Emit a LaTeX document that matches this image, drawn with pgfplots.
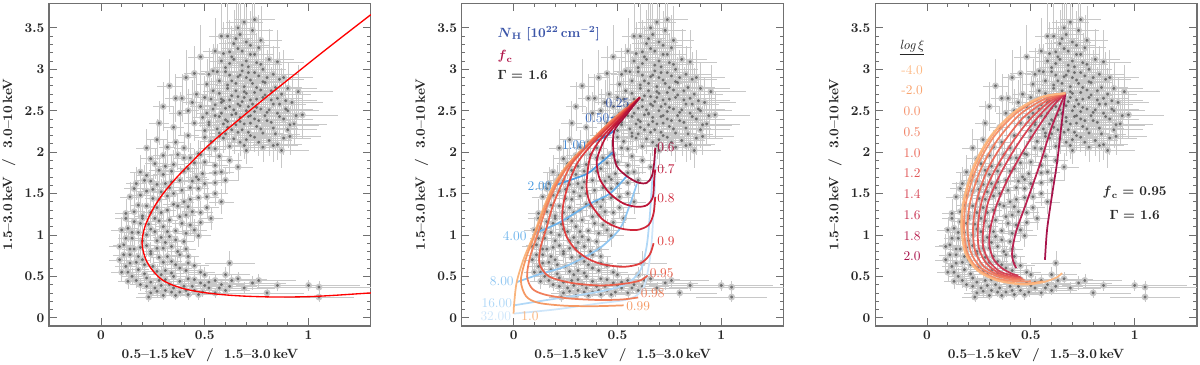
\documentclass[border=0pt]{standalone}
\usepackage{pgfplots}
\usepackage{pgfplotstable}
\pgfplotsset{compat=1.18}
\usepackage{amsmath,amssymb}

\definecolor{axgray}{HTML}{707070}
\definecolor{bargray}{HTML}{C8C8C8}
\definecolor{ptgray}{HTML}{6E6E6E}
% N_H colours
\definecolor{nhA}{HTML}{3655A5}
\definecolor{nhB}{HTML}{3A6BC0}
\definecolor{nhC}{HTML}{3D85D3}
\definecolor{nhD}{HTML}{4E9DE2}
\definecolor{nhE}{HTML}{6EB4EC}
\definecolor{nhF}{HTML}{91C7F2}
\definecolor{nhG}{HTML}{B1D8F7}
\definecolor{nhH}{HTML}{CFE6FA}
% f_c colours
\definecolor{fcA}{HTML}{A50F3A}
\definecolor{fcB}{HTML}{BD1538}
\definecolor{fcC}{HTML}{CE2539}
\definecolor{fcD}{HTML}{DE3E3E}
\definecolor{fcE}{HTML}{E9604B}
\definecolor{fcF}{HTML}{F07F5B}
\definecolor{fcG}{HTML}{F59A65}
\definecolor{fcH}{HTML}{F9B47C}
% log xi colours
\definecolor{xiA}{HTML}{FDB882}
\definecolor{xiB}{HTML}{F9A46F}
\definecolor{xiC}{HTML}{F5906A}
\definecolor{xiD}{HTML}{F07F62}
\definecolor{xiE}{HTML}{EA6A5B}
\definecolor{xiF}{HTML}{E15757}
\definecolor{xiG}{HTML}{D64555}
\definecolor{xiH}{HTML}{C93353}
\definecolor{xiI}{HTML}{BA2150}
\definecolor{xiJ}{HTML}{A8134B}
\definecolor{nhtext}{HTML}{3B55A8}
\definecolor{fctext}{HTML}{B0174A}

% hardness ratios: x = (0.5-1.5)/(1.5-3.0), y = (1.5-3.0)/(3.0-10)
\pgfplotstableread{
x y ex ey
0.62 2.55 0.06 0.22
0.68 2.61 0.07 0.25
0.71 2.43 0.08 0.20
0.65 2.33 0.05 0.18
0.74 2.72 0.09 0.30
0.58 2.47 0.06 0.21
0.77 2.52 0.10 0.26
0.69 2.79 0.07 0.28
0.63 2.68 0.06 0.24
0.80 2.38 0.11 0.22
0.56 2.28 0.05 0.19
0.72 2.20 0.08 0.17
0.66 2.91 0.07 0.31
0.60 2.39 0.05 0.20
0.75 2.31 0.09 0.19
0.82 2.63 0.12 0.29
0.64 2.16 0.06 0.18
0.70 2.50 0.07 0.23
0.67 2.42 0.06 0.22
0.78 2.85 0.10 0.32
0.59 2.62 0.06 0.25
0.73 2.58 0.08 0.24
0.85 2.47 0.13 0.27
0.61 2.81 0.06 0.29
0.54 2.52 0.05 0.23
0.76 2.12 0.09 0.17
0.68 2.27 0.07 0.19
0.57 2.71 0.05 0.27
0.79 2.69 0.10 0.28
0.63 2.45 0.06 0.21
0.71 2.96 0.08 0.33
0.66 2.58 0.06 0.24
0.74 2.40 0.08 0.21
0.83 2.29 0.12 0.22
0.52 2.36 0.05 0.20
0.69 2.66 0.07 0.26
0.60 2.22 0.05 0.18
0.77 2.75 0.09 0.30
0.65 2.74 0.07 0.27
0.72 2.35 0.08 0.20
0.87 2.70 0.14 0.31
0.58 2.60 0.05 0.24
0.81 2.51 0.11 0.25
0.70 2.15 0.07 0.17
0.62 2.93 0.06 0.32
0.75 2.64 0.09 0.26
0.55 2.44 0.05 0.21
0.67 2.37 0.07 0.20
0.79 2.44 0.10 0.23
0.64 2.51 0.06 0.23
0.73 2.83 0.08 0.30
0.88 2.40 0.14 0.26
0.61 2.30 0.06 0.19
0.69 2.08 0.07 0.16
0.76 2.92 0.09 0.33
0.53 2.64 0.05 0.26
0.71 2.55 0.08 0.24
0.84 2.78 0.13 0.32
0.66 2.24 0.06 0.18
0.59 2.34 0.05 0.20
0.78 2.23 0.10 0.19
0.63 2.86 0.06 0.30
0.74 2.49 0.08 0.23
0.68 2.98 0.07 0.34
0.57 2.19 0.05 0.18
0.86 2.58 0.13 0.28
0.70 2.71 0.07 0.28
0.62 2.63 0.06 0.25
0.80 2.90 0.11 0.33
0.65 2.47 0.06 0.22
0.68 3.05 0.08 0.35
0.64 3.12 0.07 0.36
0.72 3.18 0.09 0.38
0.60 3.02 0.06 0.33
0.75 3.08 0.10 0.36
0.66 3.25 0.08 0.40
0.70 3.33 0.09 0.42
0.62 3.21 0.07 0.38
0.78 3.00 0.11 0.34
0.67 3.42 0.08 0.44
0.73 3.47 0.10 0.45
0.58 3.10 0.06 0.35
0.69 3.57 0.09 0.47
0.65 3.37 0.08 0.42
0.71 3.03 0.08 0.34
0.56 2.97 0.06 0.33
0.76 3.26 0.10 0.40
0.63 3.15 0.07 0.37
0.81 3.12 0.12 0.37
0.61 3.40 0.07 0.43
0.74 3.60 0.10 0.48
0.55 3.22 0.06 0.40
0.70 2.90 0.08 0.32
0.45 2.35 0.05 0.22
0.48 2.55 0.05 0.25
0.42 2.20 0.05 0.20
0.50 2.18 0.05 0.19
0.38 2.47 0.05 0.26
0.46 2.70 0.05 0.28
0.40 2.05 0.05 0.19
0.52 2.05 0.05 0.18
0.35 2.30 0.05 0.24
0.44 2.60 0.05 0.27
0.49 2.42 0.05 0.22
0.33 2.80 0.06 0.32
0.36 2.12 0.04 0.20
0.47 1.98 0.05 0.17
0.51 2.82 0.05 0.30
0.41 2.90 0.05 0.33
0.30 2.55 0.05 0.30
0.43 1.93 0.05 0.18
0.37 1.97 0.04 0.19
0.54 2.98 0.06 0.33
0.48 3.15 0.06 0.38
0.32 2.06 0.04 0.21
0.39 2.65 0.05 0.29
0.27 2.15 0.05 0.25
0.24 1.92 0.05 0.23
0.90 2.50 0.15 0.27
0.93 2.34 0.16 0.25
0.89 2.62 0.15 0.30
0.95 2.73 0.17 0.32
0.91 2.19 0.15 0.22
0.87 2.02 0.13 0.21
0.83 2.08 0.12 0.20
0.94 2.44 0.16 0.28
0.35 1.85 0.05 0.18
0.42 1.80 0.05 0.17
0.50 1.88 0.05 0.17
0.57 1.95 0.06 0.18
0.62 1.90 0.06 0.17
0.28 1.78 0.05 0.19
0.22 1.72 0.05 0.20
0.46 1.70 0.05 0.17
0.38 1.66 0.05 0.17
0.55 1.75 0.06 0.16
0.66 1.82 0.07 0.17
0.31 1.62 0.04 0.17
0.25 1.55 0.05 0.18
0.43 1.57 0.05 0.16
0.50 1.62 0.05 0.16
0.60 1.66 0.06 0.16
0.19 1.48 0.05 0.19
0.35 1.50 0.05 0.16
0.28 1.43 0.04 0.16
0.40 1.40 0.05 0.15
0.47 1.45 0.05 0.15
0.55 1.50 0.06 0.15
0.22 1.35 0.04 0.17
0.16 1.28 0.05 0.18
0.32 1.30 0.04 0.15
0.38 1.22 0.05 0.14
0.44 1.28 0.05 0.14
0.51 1.33 0.06 0.14
0.26 1.20 0.04 0.15
0.19 1.14 0.04 0.15
0.13 1.08 0.05 0.17
0.30 1.10 0.04 0.14
0.36 1.05 0.05 0.13
0.43 1.12 0.05 0.13
0.22 1.00 0.04 0.14
0.15 0.96 0.04 0.14
0.27 0.93 0.04 0.13
0.33 0.98 0.04 0.13
0.40 0.92 0.05 0.12
0.47 0.99 0.06 0.13
0.11 0.88 0.05 0.15
0.19 0.85 0.04 0.13
0.24 0.80 0.04 0.12
0.30 0.84 0.04 0.12
0.37 0.80 0.05 0.11
0.14 0.76 0.04 0.13
0.20 0.70 0.04 0.11
0.28 0.73 0.04 0.11
0.34 0.68 0.05 0.10
0.42 0.74 0.05 0.11
0.09 0.70 0.05 0.14
0.53 1.20 0.06 0.14
0.58 1.40 0.06 0.15
0.24 1.65 0.04 0.18
0.17 1.62 0.05 0.20
0.48 1.15 0.06 0.13
0.12 1.20 0.05 0.17
0.34 1.77 0.05 0.18
0.20 1.20 0.04 0.15
0.26 1.04 0.04 0.14
0.29 1.52 0.04 0.16
0.37 1.35 0.05 0.15
0.24 1.27 0.04 0.15
0.33 1.18 0.04 0.14
0.18 1.03 0.04 0.14
0.41 1.02 0.05 0.13
0.27 1.61 0.04 0.17
0.44 1.65 0.05 0.17
0.31 0.91 0.04 0.12
0.16 0.83 0.04 0.13
0.12 0.62 0.05 0.12
0.18 0.58 0.05 0.10
0.25 0.62 0.05 0.10
0.31 0.57 0.05 0.09
0.38 0.60 0.06 0.09
0.45 0.63 0.07 0.10
0.15 0.50 0.05 0.10
0.22 0.48 0.05 0.09
0.28 0.45 0.05 0.08
0.35 0.50 0.06 0.08
0.42 0.47 0.07 0.08
0.50 0.52 0.08 0.09
0.19 0.40 0.05 0.08
0.26 0.36 0.06 0.07
0.33 0.40 0.06 0.07
0.40 0.38 0.07 0.07
0.48 0.42 0.08 0.07
0.55 0.45 0.10 0.08
0.24 0.30 0.06 0.07
0.31 0.33 0.07 0.06
0.38 0.31 0.08 0.06
0.45 0.33 0.09 0.06
0.52 0.36 0.10 0.07
0.58 0.40 0.11 0.07
0.23 0.25 0.06 0.06
0.36 0.27 0.08 0.06
0.13 0.44 0.05 0.09
0.10 0.55 0.05 0.11
0.60 0.52 0.12 0.09
0.66 0.47 0.14 0.08
0.62 0.38 0.13 0.07
0.69 0.36 0.15 0.07
0.73 0.42 0.16 0.08
0.76 0.45 0.18 0.08
0.85 0.39 0.20 0.07
1.00 0.39 0.25 0.07
1.05 0.37 0.30 0.07
1.05 0.25 0.17 0.06
0.62 0.66 0.12 0.15
0.55 0.30 0.11 0.06
0.47 0.28 0.09 0.06
0.80 0.30 0.18 0.06
0.29 0.52 0.05 0.09
0.17 0.67 0.04 0.11
0.55 2.04 0.05 0.17
0.62 2.07 0.06 0.17
0.70 2.02 0.07 0.16
0.78 2.06 0.10 0.18
0.85 2.09 0.12 0.19
0.53 2.13 0.05 0.18
0.59 2.17 0.05 0.18
0.67 2.12 0.06 0.17
0.74 2.18 0.08 0.18
0.81 2.14 0.11 0.19
0.88 2.17 0.13 0.20
0.50 2.26 0.05 0.19
0.57 2.23 0.05 0.19
0.63 2.27 0.06 0.19
0.71 2.24 0.07 0.19
0.77 2.28 0.09 0.20
0.84 2.22 0.12 0.20
0.90 2.27 0.14 0.22
0.52 2.33 0.05 0.20
0.61 2.37 0.06 0.21
0.69 2.34 0.07 0.20
0.76 2.38 0.09 0.21
0.82 2.36 0.11 0.22
0.91 2.33 0.14 0.23
0.51 2.47 0.05 0.22
0.57 2.43 0.05 0.21
0.65 2.46 0.06 0.22
0.72 2.44 0.07 0.22
0.80 2.48 0.10 0.23
0.86 2.43 0.12 0.24
0.55 2.57 0.05 0.24
0.60 2.53 0.05 0.23
0.67 2.56 0.06 0.24
0.75 2.54 0.08 0.24
0.83 2.58 0.11 0.26
0.89 2.52 0.13 0.26
0.50 2.66 0.05 0.26
0.58 2.64 0.05 0.25
0.66 2.67 0.06 0.26
0.72 2.63 0.07 0.25
0.78 2.66 0.09 0.27
0.85 2.65 0.12 0.28
0.54 2.74 0.05 0.27
0.61 2.77 0.06 0.28
0.69 2.73 0.07 0.27
0.75 2.78 0.08 0.29
0.82 2.74 0.11 0.29
0.90 2.77 0.14 0.31
0.57 2.86 0.05 0.30
0.65 2.83 0.06 0.29
0.72 2.87 0.08 0.31
0.79 2.84 0.10 0.31
0.86 2.88 0.12 0.33
0.52 2.94 0.05 0.32
0.60 2.97 0.06 0.33
0.67 2.93 0.07 0.32
0.74 2.96 0.09 0.33
0.83 2.94 0.12 0.34
0.62 3.07 0.06 0.35
0.70 3.10 0.08 0.36
0.77 3.06 0.10 0.36
0.85 3.09 0.13 0.38
0.59 3.19 0.06 0.38
0.68 3.22 0.08 0.39
0.74 3.18 0.09 0.39
0.64 3.31 0.07 0.41
0.72 3.29 0.09 0.41
0.30 1.96 0.05 0.19
0.40 1.93 0.05 0.18
0.48 1.97 0.05 0.17
0.26 1.86 0.05 0.19
0.31 1.83 0.05 0.18
0.45 1.87 0.05 0.17
0.55 1.84 0.06 0.17
0.19 1.76 0.05 0.20
0.30 1.73 0.05 0.18
0.40 1.77 0.05 0.17
0.49 1.74 0.05 0.17
0.58 1.76 0.06 0.17
0.21 1.66 0.05 0.19
0.34 1.64 0.05 0.17
0.47 1.67 0.05 0.16
0.55 1.63 0.06 0.16
0.16 1.56 0.05 0.19
0.22 1.53 0.05 0.18
0.33 1.57 0.05 0.17
0.39 1.54 0.05 0.16
0.47 1.56 0.05 0.16
0.14 1.46 0.05 0.18
0.25 1.44 0.04 0.17
0.32 1.47 0.04 0.16
0.43 1.43 0.05 0.15
0.51 1.46 0.06 0.15
0.18 1.36 0.04 0.17
0.27 1.33 0.04 0.16
0.35 1.37 0.05 0.15
0.42 1.34 0.05 0.15
0.12 1.26 0.05 0.17
0.20 1.23 0.04 0.16
0.29 1.27 0.04 0.15
0.41 1.24 0.05 0.14
0.48 1.27 0.06 0.14
0.16 1.16 0.04 0.16
0.23 1.13 0.04 0.15
0.28 1.17 0.04 0.14
0.39 1.14 0.05 0.14
0.10 1.06 0.05 0.16
0.15 1.03 0.04 0.15
0.24 1.07 0.04 0.14
0.32 1.04 0.04 0.13
0.45 1.06 0.06 0.13
0.12 0.96 0.04 0.15
0.20 0.93 0.04 0.14
0.29 0.97 0.04 0.13
0.36 0.94 0.05 0.12
0.09 0.86 0.05 0.15
0.14 0.83 0.04 0.14
0.22 0.87 0.04 0.13
0.27 0.84 0.04 0.12
0.34 0.86 0.05 0.12
0.41 0.83 0.05 0.11
0.11 0.76 0.05 0.13
0.18 0.74 0.04 0.12
0.24 0.77 0.04 0.11
0.32 0.74 0.05 0.11
0.38 0.76 0.05 0.10
0.14 0.66 0.05 0.12
0.21 0.64 0.05 0.11
0.30 0.67 0.05 0.10
0.36 0.64 0.05 0.10
0.42 0.66 0.06 0.10
0.13 0.55 0.05 0.11
0.21 0.53 0.05 0.10
0.27 0.56 0.05 0.09
0.34 0.54 0.06 0.09
0.41 0.57 0.06 0.09
0.48 0.55 0.07 0.09
0.17 0.45 0.05 0.09
0.24 0.43 0.05 0.08
0.31 0.46 0.06 0.08
0.38 0.44 0.06 0.08
0.45 0.46 0.07 0.08
0.52 0.43 0.09 0.08
0.63 0.45 0.12 0.08
0.22 0.38 0.05 0.08
0.29 0.39 0.06 0.07
0.35 0.36 0.07 0.07
0.44 0.38 0.08 0.07
0.50 0.39 0.09 0.07
0.57 0.36 0.10 0.07
0.27 0.32 0.06 0.07
0.34 0.31 0.07 0.06
0.41 0.33 0.08 0.06
0.49 0.31 0.09 0.06
0.60 0.33 0.12 0.06
0.30 0.27 0.07 0.06
0.42 0.28 0.08 0.06
0.92 2.60 0.15 0.29
0.97 2.45 0.17 0.28
0.88 2.90 0.14 0.33
0.58 3.40 0.06 0.43
0.66 3.50 0.08 0.45
0.77 3.35 0.10 0.42
0.45 2.95 0.05 0.33
0.42 2.50 0.05 0.26
0.36 2.65 0.05 0.29
0.28 2.35 0.05 0.27
0.22 2.05 0.05 0.23
}\hrdata

\pgfplotsset{
  panel/.style={
    scale only axis, width=8.47cm, height=8.5cm,
    anchor=south west, clip marker paths=true,
    xmin=-0.25, xmax=1.3, ymin=-0.1, ymax=3.8,
    xtick={0,0.5,1}, ytick={0,0.5,...,3.5},
    minor x tick num=4, minor y tick num=4,
    major tick length=0.2cm, minor tick length=0.1cm,
    axis line style={axgray, line width=0.8pt},
    every tick/.style={axgray, line width=0.6pt},
    /pgf/number format/assume math mode=true,
    tick label style={font=\bfseries, text=black!85},
    label style={font=\bfseries, text=black!85},
    xlabel={0.5--1.5\,keV \ / \ 1.5--3.0\,keV},
    ylabel={1.5--3.0\,keV \ / \ 3.0--10\,keV},
  },
  overlay/.style={
    scale only axis, width=8.47cm, height=8.5cm,
    anchor=south west, hide axis,
    xmin=-0.25, xmax=1.3, ymin=-0.1, ymax=3.8,
  },
  % light error bars, drawn as bare segments to keep the page small
  hrbars/.style={only marks, mark=none, bargray, line width=1.1pt,
    error bars/.cd, x dir=both, x explicit, y dir=both, y explicit,
    draw error bar/.code 2 args={\draw ##1 -- ##2;}},
  hrpoints/.style={only marks, mark=*, mark size=0.9pt, ptgray},
  modelcurve/.style={no marks, smooth, line width=1.3pt},
}

\begin{document}
\begin{tikzpicture}

% ---------- panel 1 ----------
\begin{axis}[panel, at={(1.29cm,1.0cm)}]
\addplot[hrbars] table[x=x, y=y, x error=ex, y error=ey] {\hrdata};
\addplot[hrpoints] table[x=x, y=y] {\hrdata};
\addplot[no marks, smooth, red, line width=1pt] coordinates {
(1.30,0.30) (1.12,0.27) (1.00,0.255) (0.85,0.25) (0.70,0.26) (0.58,0.28)
(0.48,0.31) (0.40,0.35) (0.34,0.40) (0.30,0.45) (0.275,0.50) (0.24,0.60)
(0.217,0.70) (0.204,0.80) (0.198,0.90) (0.202,1.00) (0.212,1.10) (0.228,1.20)
(0.248,1.30) (0.272,1.40) (0.300,1.50) (0.332,1.60) (0.367,1.70) (0.405,1.80)
(0.445,1.90) (0.484,2.00) (0.526,2.10) (0.572,2.20) (0.620,2.30) (0.668,2.40)
(0.716,2.50) (0.765,2.60) (0.814,2.70) (0.864,2.80) (0.914,2.90) (0.964,3.00)
(1.064,3.20) (1.166,3.40) (1.30,3.66)};
\end{axis}

% ---------- panel 2 ----------
\begin{axis}[panel, at={(12.15cm,1.0cm)}]
\addplot[hrbars] table[x=x, y=y, x error=ex, y error=ey] {\hrdata};
\addplot[hrpoints] table[x=x, y=y] {\hrdata};
\addplot[modelcurve, nhH] coordinates {(0.0,0.05) (0.2,0.10) (0.40,0.17) (0.561,0.23) (0.626,0.37) (0.658,0.74) (0.674,1.26) (0.682,1.67) (0.684,1.95)};
\addplot[modelcurve, nhG] coordinates {(0.002,0.15) (0.15,0.21) (0.319,0.275) (0.45,0.335) (0.545,0.41) (0.61,0.57) (0.64,0.85) (0.655,1.2) (0.666,1.6) (0.672,1.8)};
\addplot[modelcurve, nhF] coordinates {(0.015,0.43) (0.13,0.53) (0.239,0.61) (0.34,0.73) (0.43,0.87) (0.513,1.08) (0.555,1.33) (0.594,1.62)};
\addplot[modelcurve, nhE] coordinates {(0.10,1.02) (0.16,1.08) (0.235,1.17) (0.37,1.38) (0.464,1.5) (0.545,1.71)};
\addplot[modelcurve, nhD] coordinates {(0.19,1.59) (0.235,1.63) (0.27,1.66) (0.355,1.74) (0.405,1.84) (0.48,2.0)};
\addplot[modelcurve, nhC] coordinates {(0.36,2.10) (0.39,2.13) (0.42,2.16) (0.45,2.20) (0.485,2.26)};
\addplot[modelcurve, nhB] coordinates {(0.47,2.415) (0.50,2.425) (0.535,2.44)};
\addplot[modelcurve, nhA] coordinates {(0.565,2.585) (0.578,2.597) (0.59,2.61)};
\addplot[modelcurve, fcH] coordinates {(0.608,2.66) (0.49,2.42) (0.36,2.11) (0.26,1.85) (0.19,1.59) (0.14,1.30) (0.10,1.02) (0.05,0.72) (0.015,0.43) (0.002,0.15) (0.0,0.05)};
\addplot[modelcurve, fcG] coordinates {(0.608,2.66) (0.49,2.42) (0.362,2.11) (0.263,1.85) (0.195,1.59) (0.145,1.30) (0.105,1.02) (0.06,0.72) (0.035,0.45) (0.06,0.26) (0.12,0.18) (0.25,0.145) (0.40,0.14) (0.53,0.15)};
\addplot[modelcurve, fcF] coordinates {(0.608,2.66) (0.49,2.42) (0.365,2.11) (0.268,1.85) (0.205,1.60) (0.155,1.31) (0.12,1.04) (0.08,0.74) (0.065,0.50) (0.09,0.35) (0.15,0.28) (0.26,0.235) (0.40,0.215) (0.52,0.22) (0.60,0.245)};
\addplot[modelcurve, fcE] coordinates {(0.608,2.66) (0.50,2.42) (0.37,2.11) (0.28,1.86) (0.235,1.63) (0.19,1.36) (0.16,1.10) (0.13,0.85) (0.125,0.65) (0.17,0.50) (0.28,0.42) (0.416,0.39) (0.53,0.41) (0.61,0.45) (0.645,0.51)};
\addplot[modelcurve, fcD] coordinates {(0.608,2.66) (0.51,2.43) (0.39,2.13) (0.31,1.88) (0.265,1.62) (0.24,1.38) (0.235,1.18) (0.255,0.98) (0.30,0.82) (0.36,0.71) (0.43,0.645) (0.53,0.615) (0.61,0.655) (0.655,0.76) (0.674,0.90)};
\addplot[modelcurve, fcC] coordinates {(0.608,2.66) (0.52,2.43) (0.42,2.16) (0.37,1.95) (0.355,1.73) (0.352,1.55) (0.37,1.38) (0.432,1.18) (0.513,1.08) (0.594,1.06) (0.65,1.12) (0.674,1.26) (0.682,1.46)};
\addplot[modelcurve, fcB] coordinates {(0.608,2.66) (0.53,2.44) (0.45,2.20) (0.415,2.02) (0.40,1.87) (0.416,1.67) (0.464,1.50) (0.529,1.38) (0.594,1.34) (0.642,1.36) (0.671,1.46) (0.677,1.67) (0.682,1.79)};
\addplot[modelcurve, fcA] coordinates {(0.608,2.66) (0.54,2.44) (0.485,2.26) (0.48,2.03) (0.497,1.83) (0.545,1.71) (0.601,1.63) (0.642,1.63) (0.666,1.71) (0.677,1.87) (0.682,2.05)};
\end{axis}

\begin{axis}[overlay, at={(12.15cm,1.0cm)}]
\node[anchor=east, text=nhA, inner sep=1pt] at (axis cs:0.565,2.585) {0.25};
\node[anchor=east, text=nhB, inner sep=1pt] at (axis cs:0.468,2.415) {0.50};
\node[anchor=east, text=nhC, inner sep=1pt] at (axis cs:0.356,2.08) {1.00};
\node[anchor=east, text=nhD, inner sep=1pt] at (axis cs:0.19,1.59) {2.00};
\node[anchor=east, text=nhE, inner sep=1pt] at (axis cs:0.07,0.98) {4.00};
\node[anchor=east, text=nhF, inner sep=1pt] at (axis cs:0.008,0.44) {8.00};
\node[anchor=east, text=nhG, inner sep=1pt] at (axis cs:0.0,0.18) {16.00};
\node[anchor=east, text=nhH, inner sep=1pt] at (axis cs:-0.005,0.02) {32.00};
\node[anchor=west, text=fcA, inner sep=1pt] at (axis cs:0.685,2.06) {0.6};
\node[anchor=west, text=fcB, inner sep=1pt] at (axis cs:0.685,1.80) {0.7};
\node[anchor=west, text=fcC, inner sep=1pt] at (axis cs:0.685,1.44) {0.8};
\node[anchor=west, text=fcD, inner sep=1pt] at (axis cs:0.685,0.92) {0.9};
\node[anchor=west, text=fcE, inner sep=1pt] at (axis cs:0.648,0.54) {0.95};
\node[anchor=west, text=fcF, inner sep=1pt] at (axis cs:0.605,0.295) {0.98};
\node[anchor=west, text=fcG, inner sep=1pt] at (axis cs:0.535,0.14) {0.99};
\node[anchor=west, text=fcH, inner sep=1pt] at (axis cs:0.03,0.02) {1.0};
\node[anchor=west, text=nhtext] at (axis cs:-0.10,3.43) {$\boldsymbol{N}_{\mathbf{H}}$ \textbf{[10}$^{\mathbf{22}}$\,\textbf{cm}$^{\mathbf{-2}}$\textbf{]}};
\node[anchor=west, text=fctext] at (axis cs:-0.10,3.16) {$\boldsymbol{f}_{\mathbf{c}}$};
\node[anchor=west, text=black!85] at (axis cs:-0.10,2.93) {$\mathbf{\Gamma}$ \textbf{= 1.6}};
\end{axis}

% ---------- panel 3 ----------
\begin{axis}[panel, at={(23.03cm,1.0cm)}]
\addplot[hrbars] table[x=x, y=y, x error=ex, y error=ey] {\hrdata};
\addplot[hrpoints] table[x=x, y=y] {\hrdata};
\addplot[modelcurve, xiJ] coordinates {(0.666,2.71) (0.646,2.30) (0.626,1.87) (0.60,1.45) (0.578,1.06) (0.568,0.70)};
\addplot[modelcurve, xiI] coordinates {(0.666,2.71) (0.60,2.30) (0.546,1.87) (0.48,1.40) (0.43,1.05) (0.41,0.80) (0.415,0.68) (0.43,0.60)};
\addplot[modelcurve, xiH] coordinates {(0.666,2.71) (0.605,2.55) (0.535,2.30) (0.46,2.00) (0.39,1.68) (0.335,1.36) (0.305,1.08) (0.30,0.88) (0.32,0.71) (0.36,0.60) (0.41,0.53) (0.44,0.51)};
\addplot[modelcurve, xiG] coordinates {(0.666,2.71) (0.595,2.58) (0.51,2.35) (0.425,2.05) (0.35,1.72) (0.295,1.40) (0.272,1.10) (0.27,0.86) (0.30,0.68) (0.35,0.56) (0.41,0.51) (0.45,0.49)};
\addplot[modelcurve, xiF] coordinates {(0.666,2.71) (0.585,2.60) (0.49,2.38) (0.40,2.08) (0.32,1.75) (0.265,1.42) (0.245,1.10) (0.25,0.84) (0.285,0.66) (0.345,0.54) (0.41,0.49) (0.455,0.48)};
\addplot[modelcurve, xiE] coordinates {(0.666,2.71) (0.575,2.62) (0.465,2.42) (0.37,2.12) (0.29,1.78) (0.24,1.42) (0.222,1.10) (0.23,0.82) (0.27,0.63) (0.34,0.52) (0.41,0.48) (0.46,0.47)};
\addplot[modelcurve, xiD] coordinates {(0.666,2.71) (0.565,2.64) (0.445,2.45) (0.34,2.15) (0.26,1.80) (0.21,1.42) (0.195,1.10) (0.21,0.80) (0.26,0.60) (0.34,0.50) (0.42,0.46) (0.47,0.46)};
\addplot[modelcurve, xiC] coordinates {(0.666,2.71) (0.555,2.66) (0.43,2.47) (0.32,2.18) (0.24,1.82) (0.19,1.42) (0.178,1.10) (0.195,0.78) (0.25,0.58) (0.34,0.47) (0.44,0.44) (0.50,0.44)};
\addplot[modelcurve, xiB] coordinates {(0.666,2.71) (0.55,2.665) (0.42,2.48) (0.31,2.19) (0.23,1.83) (0.18,1.42) (0.168,1.10) (0.187,0.78) (0.245,0.575) (0.34,0.455) (0.46,0.41) (0.56,0.44)};
\addplot[modelcurve, xiA] coordinates {(0.666,2.71) (0.546,2.66) (0.417,2.48) (0.305,2.19) (0.224,1.83) (0.176,1.42) (0.165,1.10) (0.184,0.78) (0.241,0.574) (0.337,0.45) (0.465,0.40) (0.561,0.43) (0.626,0.49) (0.65,0.54)};
\end{axis}

\begin{axis}[overlay, at={(23.03cm,1.0cm)}]
\node[text=black!85] at (axis cs:-0.072,3.26) {\underline{\textit{log}$\,\xi$}};
\node[text=xiA] at (axis cs:-0.072,2.99) {-4.0};
\node[text=xiB] at (axis cs:-0.072,2.75) {-2.0};
\node[text=xiC] at (axis cs:-0.072,2.50) {0.0};
\node[text=xiD] at (axis cs:-0.072,2.245) {0.5};
\node[text=xiE] at (axis cs:-0.072,1.99) {1.0};
\node[text=xiF] at (axis cs:-0.072,1.75) {1.2};
\node[text=xiG] at (axis cs:-0.072,1.50) {1.4};
\node[text=xiH] at (axis cs:-0.072,1.24) {1.6};
\node[text=xiI] at (axis cs:-0.072,0.99) {1.8};
\node[text=xiJ] at (axis cs:-0.072,0.744) {2.0};
\node[text=black!85] at (axis cs:1.0,1.51) {$\boldsymbol{f}_{\mathbf{c}}$ \textbf{= 0.95}};
\node[text=black!85] at (axis cs:1.0,1.24) {$\mathbf{\Gamma}$ \textbf{= 1.6}};
\end{axis}

\pgfresetboundingbox
\useasboundingbox (0,0) rectangle (31.58cm,9.58cm);
\end{tikzpicture}
\end{document}
